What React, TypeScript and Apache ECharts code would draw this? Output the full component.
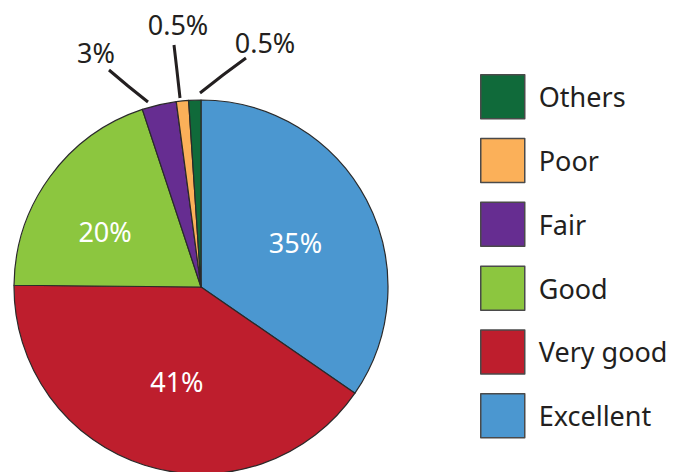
import React, { useEffect, useRef } from "react";
import * as echarts from "echarts";

const categories = ["Excellent", "Very good", "Good", "Fair", "Poor", "Others"];
const values = [35, 41, 20, 3, 0.5, 0.5];
const labels = ["35%", "41%", "20%", "3%", "0.5%", "0.5%"];
const colors = ["#4b97d0", "#be1e2d", "#8cc63f", "#662d91", "#fbb059", "#106a3a"];
const legendOrder = ["Others", "Poor", "Fair", "Good", "Very good", "Excellent"];

// placement of the outside labels (text centre, and leader line from text to slice)
const outsideLabels: Record<number, { x: number; y: number; line: number[][] }> = {
  3: { x: 96, y: 52, line: [[109, 70], [128, 86], [148, 102]] },
  4: { x: 178, y: 24, line: [[174, 45], [177, 71], [180, 98]] },
  5: { x: 265, y: 42, line: [[246, 58], [223, 75], [200, 93]] },
};
// small nudges of the inside labels
const insideShift: Record<number, { dx: number; dy: number }> = {
  0: { dx: 9, dy: 0 },
  1: { dx: 5, dy: 2 },
  2: { dx: -18, dy: 1 },
};

export default function App() {
  const ref = useRef<HTMLDivElement>(null);
  useEffect(() => {
    if (!ref.current) return;
    const chart = echarts.init(ref.current, null, { renderer: "svg" });
    const font = "'Noto Sans', sans-serif";
    chart.setOption({
      animation: false,
      backgroundColor: "#ffffff",
      legend: {
        orient: "vertical",
        left: 475,
        top: 69,
        itemWidth: 44,
        itemHeight: 44,
        itemGap: 18.3,
        icon: "rect",
        data: legendOrder,
        itemStyle: { borderColor: "#4a4a4a", borderWidth: 1.5 },
        textStyle: { fontFamily: font, fontSize: 27, color: "#231f20", padding: [0, 0, 0, 9] },
      },
      series: [
        {
          type: "pie",
          center: [201, 287],
          radius: 187,
          startAngle: 90,
          clockwise: true,
          minAngle: 3.8,
          avoidLabelOverlap: false,
          itemStyle: { borderColor: "#2a2a2a", borderWidth: 1.2 },
          data: categories.map((name, i) => {
            const outside = outsideLabels[i] !== undefined;
            return {
              name,
              value: values[i],
              itemStyle: { color: colors[i] },
              label: {
                show: true,
                position: outside ? "outside" : "inside",
                formatter: labels[i],
                fontFamily: font,
                fontSize: 27,
                color: outside ? "#231f20" : "#ffffff",
              },
              labelLine: {
                show: outside,
                lineStyle: { color: "#231f20", width: 3 },
              },
            };
          }),
          labelLayout: (params: any) => {
            const o = outsideLabels[params.dataIndex];
            if (!o) {
              const s = insideShift[params.dataIndex];
              return s ? { dx: s.dx, dy: s.dy } : {};
            }
            return {
              x: o.x,
              y: o.y,
              align: "center",
              verticalAlign: "middle",
              labelLinePoints: o.line,
            };
          },
        },
      ],
    });
    return () => chart.dispose();
  }, []);
  return (
    <div
      ref={ref}
      style={{ position: "fixed", left: 0, top: 0, width: 688, height: 472 }}
    />
  );
}
